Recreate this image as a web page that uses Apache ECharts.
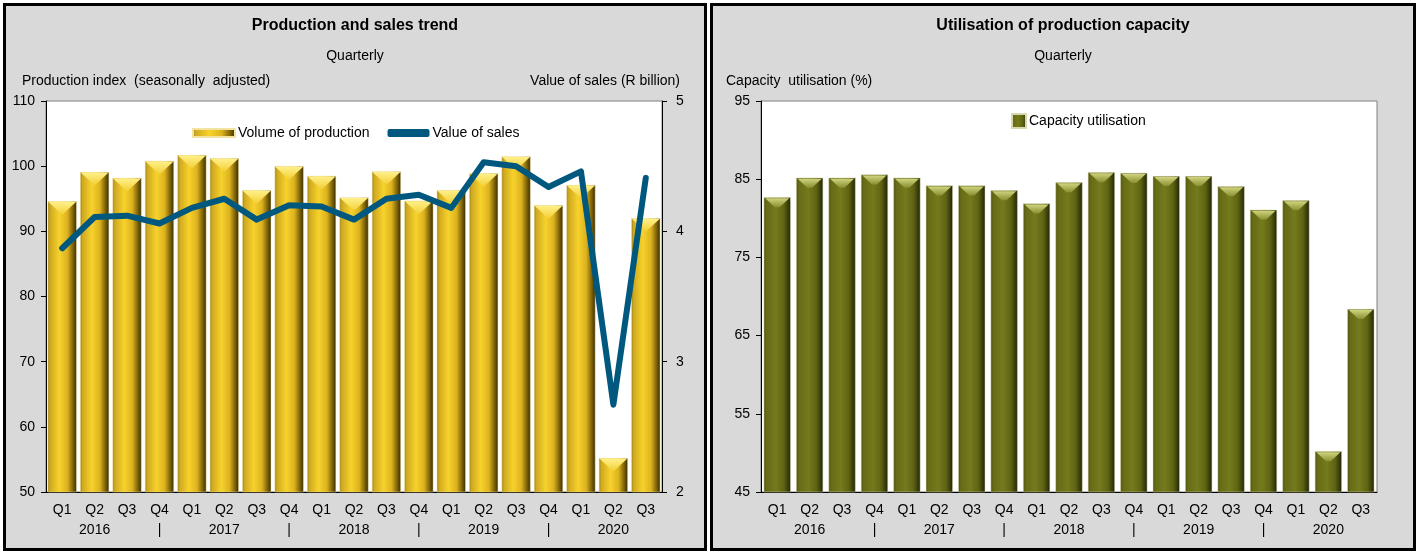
<!DOCTYPE html>
<html>
<head>
<meta charset="utf-8">
<script src="https://cdn.jsdelivr.net/npm/echarts@6/dist/echarts.min.js"></script>
<style>
    body { margin: 0; background: #fff; }
    .panel { position: absolute; top: 3px; height: 542px; border: 3px solid #000; background: #d9d9d9; }
    #trend { left: 3px; width: 698px; }
    #capacity { left: 710px; width: 700px; }
</style>
</head>
<body>
<div id="trend" class="panel"></div>
<div id="capacity" class="panel"></div>
<script>
var quarters = ['Q1', 'Q2', 'Q3', 'Q4', 'Q1', 'Q2', 'Q3', 'Q4', 'Q1', 'Q2', 'Q3', 'Q4',
    'Q1', 'Q2', 'Q3', 'Q4', 'Q1', 'Q2', 'Q3'];
var years = ['', '2016', '', '|', '', '2017', '', '|', '', '2018', '', '|',
    '', '2019', '', '|', '', '2020', ''];

var production = [94.6, 99.1, 98.2, 100.8, 101.7, 101.2, 96.3, 100.0, 98.5, 95.2,
    99.2, 94.7, 96.3, 98.9, 101.5, 94.0, 97.1, 55.2, 92.0];
var sales = [3.87, 4.11, 4.12, 4.06, 4.18, 4.25, 4.09, 4.20, 4.19, 4.09,
    4.25, 4.28, 4.18, 4.53, 4.50, 4.34, 4.46, 2.67, 4.41];
var utilisation = [82.7, 85.2, 85.2, 85.6, 85.2, 84.2, 84.2, 83.6, 81.9, 84.6,
    85.9, 85.8, 85.4, 85.4, 84.1, 81.1, 82.3, 50.2, 68.4];

var labels = quarters.map(function (q, i) { return q + '\n' + years[i]; });

var font = '"Liberation Sans", Arial, sans-serif';

function hGrad(stops) {
    return new echarts.graphic.LinearGradient(0, 0, 1, 0, stops.map(function (s) {
        return { offset: s[0], color: s[1] };
    }));
}

var goldBar = hGrad([[0, '#9a7e14'], [0.08, '#cfa920'], [0.4, '#f7d22c'], [0.68, '#dcb21e'], [0.9, '#6e5606'], [1, '#352a00']]);
var goldCap = new echarts.graphic.LinearGradient(0, 0, 0, 1, [
    { offset: 0, color: '#fff08a' }, { offset: 1, color: '#f3cf35' }]);
var oliveBar = hGrad([[0, '#4e520c'], [0.1, '#666b16'], [0.45, '#747a1d'], [0.75, '#5e6312'], [0.93, '#33360a'], [1, '#1c1e03']]);
var oliveCap = new echarts.graphic.LinearGradient(0, 0, 0, 1, [
    { offset: 0, color: '#d0d480' }, { offset: 1, color: '#8a9030' }]);

function xAxisBase() {
    return {
        type: 'category',
        data: labels,
        axisLine: { lineStyle: { color: '#000', width: 1 } },
        axisTick: { length: 5, lineStyle: { color: '#000' } },
        axisLabel: { interval: 0, color: '#000', fontSize: 14, fontFamily: font, lineHeight: 20, margin: 8 }
    };
}

function yAxisBase(min, max, step, pos) {
    return {
        type: 'value',
        position: pos,
        min: min,
        max: max,
        interval: step,
        splitLine: { show: false },
        axisLine: { show: true, lineStyle: { color: '#000', width: 1 } },
        axisTick: { show: true, length: 5, lineStyle: { color: '#000' } },
        axisLabel: { color: '#000', fontSize: 14, fontFamily: font, margin: pos === 'left' ? 11 : 14 }
    };
}

function heading(title) {
    return [
        { text: title, left: 'center', top: 7,
          textStyle: { fontSize: 16, fontWeight: 'bold', color: '#000', fontFamily: font } },
        { text: 'Quarterly', left: 'center', top: 38,
          textStyle: { fontSize: 14, fontWeight: 'normal', color: '#000', fontFamily: font } }
    ];
}

function axisText(text, pos) {
    var t = { type: 'text', top: 68, style: { text: text, font: '14px ' + font, fill: '#000' } };
    for (var k in pos) t[k] = pos[k];
    return t;
}

var trendChart = echarts.init(document.getElementById('trend'));
trendChart.setOption({
    animation: false,
    title: heading('Production and sales trend'),
    graphic: [
        axisText('Production index  (seasonally  adjusted)', { left: 16 }),
        axisText('Value of sales (R billion)', { right: 24 })
    ],
    legend: {
        data: [
            { name: 'Volume of production', icon: 'rect' },
            { name: 'Value of sales', icon: 'roundRect', itemStyle: { color: '#00587f' } }
        ],
        left: 181,
        top: 115,
        itemWidth: 42,
        itemHeight: 8,
        itemGap: 18,
        textStyle: { fontSize: 14, color: '#000', fontFamily: font, padding: [0, 0, 0, -2] }
    },
    grid: { left: 40, right: 42, top: 95, bottom: 56, show: true,
            backgroundColor: '#fff', borderColor: '#808080', borderWidth: 1 },
    xAxis: xAxisBase(),
    yAxis: [yAxisBase(50, 110, 10, 'left'), yAxisBase(2, 5, 1, 'right')],
    series: [
        {
            name: 'Volume of production',
            type: 'bar',
            data: production,
            barWidth: 29,
            barGap: '-100%',
            itemStyle: { color: goldBar, borderColor: '#f3e3a0', borderWidth: 0.5 }
        },
        {
            name: 'cap',
            type: 'pictorialBar',
            data: production,
            barWidth: 29,
            barGap: '-100%',
            symbol: 'path://M0,0 L10,0 L5,4.5 Z',
            symbolSize: [28, 13],
            symbolPosition: 'end',
            symbolOffset: [0, 0.5],
            itemStyle: { color: goldCap },
            z: 3,
            silent: true
        },
        {
            name: 'Value of sales',
            type: 'line',
            yAxisIndex: 1,
            data: sales,
            showSymbol: false,
            symbol: 'none',
            lineStyle: { color: '#00587f', width: 6, cap: 'round', join: 'round' },
            itemStyle: { color: '#00587f' },
            z: 5
        }
    ]
});

var capacityChart = echarts.init(document.getElementById('capacity'));
capacityChart.setOption({
    animation: false,
    title: heading('Utilisation of production capacity'),
    graphic: [axisText('Capacity  utilisation (%)', { left: 13 })],
    legend: {
        data: [{ name: 'Capacity utilisation', icon: 'rect' }],
        left: 293,
        top: 102,
        itemWidth: 14,
        itemHeight: 14,
        textStyle: { fontSize: 14, color: '#000', fontFamily: font, padding: [0, 0, 0, -2] }
    },
    grid: { left: 48, right: 36, top: 95, bottom: 56, show: true,
            backgroundColor: '#fff', borderColor: '#808080', borderWidth: 1 },
    xAxis: xAxisBase(),
    yAxis: yAxisBase(45, 95, 10, 'left'),
    series: [
        {
            name: 'Capacity utilisation',
            type: 'bar',
            data: utilisation,
            barWidth: 27,
            barGap: '-100%',
            itemStyle: { color: oliveBar, borderColor: '#d8d8b0', borderWidth: 0.5 }
        },
        {
            name: 'cap',
            type: 'pictorialBar',
            data: utilisation,
            barWidth: 27,
            barGap: '-100%',
            symbol: 'path://M0,0 L10,0 L6,3.5 L4,3.5 Z',
            symbolSize: [24, 9],
            symbolPosition: 'end',
            symbolOffset: [0, 1],
            itemStyle: { color: oliveCap },
            z: 3,
            silent: true
        }
    ]
});

window.onresize = function () {
    trendChart.resize();
    capacityChart.resize();
};
</script>
</body>
</html>
